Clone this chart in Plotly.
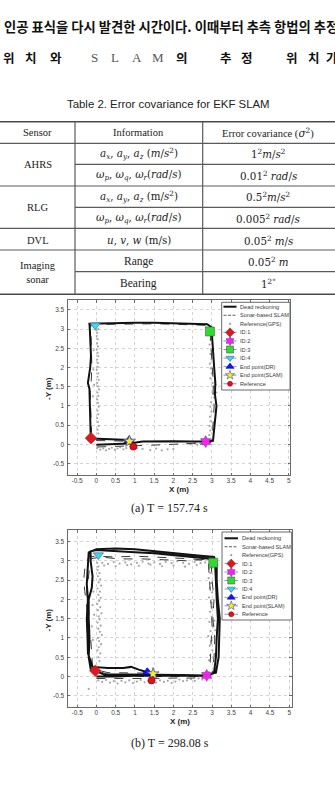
import plotly.graph_objects as go

W, H = 335, 790

# ---------------- text data ----------------
intro_line = "인공 표식을 다시 발견한 시간이다. 이때부터 추측 항법의 추정"
intro_chars = ["위", "치", "와", "S", "L", "A", "M", "의", "추", "정", "위", "치", "가"]

table_title = "Table 2. Error covariance for EKF SLAM"
table_header = ["Sensor", "Information", "Error covariance (<span style='font-family:DejaVu Serif'><i>σ</i><sup>2</sup></span>)"]
sensors = ["AHRS", "RLG", "DVL", "Imaging<br>sonar"]
information = [
    "<i>a<sub>x</sub></i>, <i>a<sub>y</sub></i>, <i>a<sub>z</sub></i> (<i>m</i>/<i>s</i><sup>2</sup>)",
    "<i>ω<sub>p</sub></i>, <i>ω<sub>q</sub></i>, <i>ω<sub>r</sub></i>(<i>rad</i>/<i>s</i>)",
    "<i>a<sub>x</sub></i>, <i>a<sub>y</sub></i>, <i>a<sub>z</sub></i> (m/<i>s</i><sup>2</sup>)",
    "<i>ω<sub>p</sub></i>, <i>ω<sub>q</sub></i>, <i>ω<sub>r</sub></i>(<i>rad</i>/<i>s</i>)",
    "<i>u</i>, <i>v</i>, <i>w</i> (m/s)",
    "Range",
    "Bearing",
]
covariance = [
    "1<sup>2</sup><i>m</i>/<i>s</i><sup>2</sup>",
    "0.01<sup>2</sup> <i>rad</i>/<i>s</i>",
    "0.5<sup>2</sup><i>m</i>/<i>s</i><sup>2</sup>",
    "0.005<sup>2</sup> <i>rad</i>/<i>s</i>",
    "0.05<sup>2</sup> <i>m</i>/<i>s</i>",
    "0.05<sup>2</sup> <i>m</i>",
    "1<sup>2°</sup>",
]

x_tickvals = [-0.5, 0, 0.5, 1, 1.5, 2, 2.5, 3, 3.5, 4, 4.5, 5]
x_ticktext = ["-0.5", "0", "0.5", "1", "1.5", "2", "2.5", "3", "3.5", "4", "4.5", "5"]
y_tickvals = [-0.5, 0, 0.5, 1, 1.5, 2, 2.5, 3, 3.5]
y_ticktext = ["-0.5", "0", "0.5", "1", "1.5", "2", "2.5", "3", "3.5"]
x_title = "X (m)"
y_title = "-Y (m)"
captions = ["(a) T = 157.74 s", "(b) T = 298.08 s"]

legend_labels = ["Dead reckoning", "Sonar-based SLAM", "Reference(GPS)", "ID:1", "ID:2",
                 "ID:3", "ID:4", "End point(DR)", "End point(SLAM)", "Reference"]

# ---------------- panel (a) data ----------------
dr_a_x = [0.00, 0.50, 0.85, 1.20, 1.60, 2.00, 2.50, 2.85, 3.03, 3.06, 3.10, 3.12, 3.08, 3.09, 3.06,
          3.03, 3.00, 2.99, 2.88, 2.40, 2.00, 1.50, 1.00, 0.50, 0.00, -0.18, -0.17, -0.16, -0.14,
          -0.16, -0.20, -0.22, -0.18, -0.17, -0.16, -0.15, -0.13, 0.20, 0.50, 0.85]
dr_a_y = [-0.01, 0.00, 0.02, 0.07, 0.08, 0.08, 0.07, 0.07, 0.09, 0.35, 0.70, 1.00, 1.30, 1.60, 2.00,
          2.40, 2.80, 3.05, 3.13, 3.15, 3.16, 3.17, 3.17, 3.16, 3.16, 3.14, 3.00, 2.70, 2.30,
          2.00, 1.75, 1.60, 1.45, 1.00, 0.60, 0.30, 0.15, 0.13, 0.12, 0.11]
slam_a_x = [0.02, 0.50, 1.00, 1.50, 2.00, 2.50, 2.85, 2.98, 3.02, 3.05, 3.06, 3.03, 3.04, 3.01,
            2.99, 2.96, 2.95, 2.85, 2.40, 2.00, 1.50, 1.00, 0.50, 0.00, -0.15, -0.14, -0.13,
            -0.12, -0.13, -0.16, -0.15, -0.14, -0.13, -0.12, -0.10, 0.20, 0.50, 0.86]
slam_a_y = [-0.07, -0.06, -0.04, -0.02, 0.00, 0.02, 0.03, 0.05, 0.35, 0.70, 1.00, 1.30, 1.60, 2.00,
            2.40, 2.80, 3.02, 3.10, 3.12, 3.13, 3.14, 3.14, 3.13, 3.12, 3.10, 2.90, 2.50,
            2.10, 1.70, 1.40, 1.00, 0.60, 0.30, 0.15, 0.10, 0.09, 0.08, 0.08]
gps_a_x = [0.00, 0.02, 0.01, 0.03, 0.02, 0.04, 0.01, 0.03, 0.05, 0.02, 0.04, 0.03, 0.01, 0.05, 0.03,
           0.06, 0.02, 0.04, 0.07, 0.03, 0.05, 0.02, 0.04, 0.06, 0.03, 0.05, 0.02, 0.04, 0.06, 0.03,
           0.05, -0.08, -0.06, -0.09, -0.07,
           2.95, 2.97, 2.94, 2.98, 2.96, 2.99, 2.95, 2.97, 3.00, 2.96, 3.02, 3.05, 3.08, 3.04, 3.06,
           2.98, 2.96, 2.99, 2.95, 2.97, 2.94, 2.96, 2.93, 3.10, 3.12,
           0.02, 0.10, 0.18, 0.25, 0.33, 0.40, 0.48, 0.55, 0.62, 0.70, 0.78, 1.05, 1.20, 1.40, 1.55,
           1.70, 1.85, 2.00, 2.35, 2.45, 2.55, 2.62, 2.70, 2.78, 2.88,
           -0.02, 2.85, 2.92, 0.05]
gps_a_y = [2.98, 2.90, 2.82, 2.74, 2.63, 2.55, 2.47, 2.38, 2.30, 2.21, 2.12, 2.02, 1.94, 1.85, 1.76,
           1.68, 1.60, 1.51, 1.43, 1.35, 1.26, 1.17, 1.08, 0.98, 0.88, 0.78, 0.68, 0.58, 0.48, 0.38,
           0.28, 1.95, 1.55, 1.25, 2.45,
           2.85, 2.72, 2.60, 2.48, 2.35, 2.22, 2.10, 1.98, 1.85, 1.72, 1.60, 1.50, 1.42, 1.32, 1.22,
           1.10, 0.98, 0.85, 0.72, 0.60, 0.48, 0.36, 0.24, 1.55, 1.35,
           -0.10, -0.14, -0.11, -0.16, -0.12, -0.09, -0.14, -0.11, -0.08, -0.13, -0.10, -0.10, -0.12,
           -0.15, -0.11, -0.16, -0.13, -0.12, 0.02, 0.00, 0.03, -0.01, 0.02, 0.00, 0.03,
           3.05, 3.05, 2.98, 3.00]
id_a_x = [-0.14, 2.84, 2.95, -0.03]
id_a_y = [0.16, 0.07, 2.94, 3.10]
end_dr_a = [0.85, 0.10]
end_slam_a = [0.86, 0.08]
ref_a = [0.96, -0.06]

# ---------------- panel (b) data ----------------
dr_b_x = [0.00, 0.50, 1.00, 1.50, 2.00, 2.50, 2.90, 3.05, 3.10, 3.12, 3.15, 3.12, 3.10, 3.08, 3.00,
          2.50, 2.00, 1.50, 1.00, 0.50, 0.00, -0.15, -0.15, -0.10, -0.12, -0.20, -0.20, -0.18,
          -0.20, -0.15, 0.20, 0.80, 1.50, 2.20, 2.80, 3.10, 3.17, 3.18, 3.20, 3.15, 3.12, 3.12,
          3.05, 2.50, 2.00, 1.50, 1.00, 0.50, 0.00, -0.20, -0.22, -0.25, -0.22, -0.25, -0.23,
          -0.22, -0.10, 0.30, 0.70, 0.90, 1.10, 1.32]
dr_b_y = [0.00, 0.00, 0.02, 0.03, 0.03, 0.02, 0.02, 0.10, 0.50, 1.00, 1.50, 2.00, 2.50, 2.90, 3.05,
          3.10, 3.15, 3.20, 3.22, 3.25, 3.28, 3.25, 3.00, 2.60, 2.30, 2.00, 1.50, 1.00,
          0.50, 0.20, 0.05, 0.05, 0.05, 0.04, 0.03, 0.10, 0.50, 1.00, 1.50, 2.00, 2.50, 2.90,
          3.10, 3.15, 3.20, 3.25, 3.30, 3.32, 3.30, 3.22, 2.80, 2.40, 2.00, 1.50, 1.00,
          0.60, 0.25, 0.22, 0.22, 0.25, 0.18, 0.11]
slam_b_x = [0.00, 0.50, 1.00, 1.50, 2.00, 2.50, 2.90, 2.95, 2.97, 3.00, 2.98, 2.95, 2.92, 2.90,
            2.50, 2.00, 1.50, 1.00, 0.50, 0.00, -0.20, -0.30, -0.33, -0.30, -0.25, -0.20, -0.15,
            -0.12, -0.10, 0.30, 0.80, 1.30, 2.00, 2.60, 3.00, 3.05, 3.07, 3.02, 3.05, 3.00, 2.98,
            2.90, 2.40, 1.80, 1.20, 0.60, 0.10, -0.15, -0.20, -0.25, -0.20, -0.18, -0.20, -0.10,
            0.30, 0.80, 1.20, 1.47]
slam_b_y = [-0.05, -0.05, -0.06, -0.05, -0.04, -0.04, 0.00, 0.30, 0.80, 1.30, 1.80, 2.30, 2.70, 3.00,
            3.05, 3.08, 3.10, 3.12, 3.10, 3.12, 3.10, 2.80, 2.50, 2.20, 1.80, 1.40, 1.00,
            0.60, 0.20, 0.05, 0.02, 0.00, 0.00, 0.00, 0.05, 0.50, 1.00, 1.50, 2.00, 2.50, 2.90,
            3.05, 3.00, 3.02, 3.05, 3.05, 3.10, 3.05, 2.60, 2.20, 1.70, 1.20, 0.70, 0.20,
            0.10, 0.10, 0.09, 0.07]
gps_b_x = [0.02, 0.05, 0.03, 0.08, 0.04, 0.10, 0.06, 0.12, 0.03, 0.09, 0.05, 0.11, 0.07, 0.02, 0.10,
           0.04, 0.13, 0.06, 0.08, 0.03, 0.11, 0.05, 0.09, 0.14, 0.04, 0.07, 0.12, 0.06, 0.03, 0.10,
           0.05, 0.08, -0.08, -0.10, -0.06, -0.12, -0.09,
           0.15, 0.30, 0.45, 0.60, 0.75, 0.90, 1.05, 1.20, 1.35, 1.50, 1.65, 1.80, 1.95, 2.10, 2.25,
           2.40, 2.55, 2.70, 2.82, 0.20, 0.50, 0.80, 1.10, 1.40, 1.70, 2.00, 2.30, 2.60,
           2.93, 2.96, 2.91, 2.98, 2.94, 3.00, 2.92, 2.97, 3.02, 2.95, 2.99, 2.93, 3.04, 2.96, 2.90,
           2.98, 2.94, 3.01, 2.95, 2.92, 3.06, 3.08,
           0.05, 0.15, 0.25, 0.35, 0.45, 0.55, 0.65, 0.75, 0.85, 0.95, 1.05, 1.15, 1.25, 1.35, 1.55,
           1.65, 1.75, 1.85, 1.95, 2.05, 2.15, 2.25, 2.35, 2.45, 2.55, 2.65, 2.75, 2.85,
           -0.20]
gps_b_y = [2.95, 2.85, 2.76, 2.68, 2.60, 2.52, 2.44, 2.36, 2.28, 2.20, 2.12, 2.04, 1.96, 1.88, 1.80,
           1.72, 1.64, 1.56, 1.48, 1.40, 1.32, 1.24, 1.16, 1.08, 1.00, 0.92, 0.84, 0.76, 0.68, 0.60,
           0.50, 0.40, 2.20, 1.85, 1.60, 1.30, 0.95,
           2.95, 2.92, 2.97, 2.93, 2.96, 2.91, 2.95, 2.98, 2.93, 2.96, 2.92, 2.97, 2.94, 2.99, 2.95,
           2.92, 2.97, 2.94, 2.96, 2.88, 2.86, 2.89, 2.87, 2.90, 2.86, 2.88, 2.85, 2.89,
           2.80, 2.68, 2.55, 2.42, 2.30, 2.18, 2.05, 1.92, 1.80, 1.68, 1.55, 1.42, 1.30, 1.18, 1.05,
           0.92, 0.80, 0.68, 0.55, 0.42, 1.45, 1.20,
           -0.10, -0.14, -0.09, -0.16, -0.12, -0.18, -0.11, -0.15, -0.10, -0.17, -0.13, -0.09, -0.15,
           -0.12, -0.16, -0.10, -0.14, -0.11, -0.17, -0.13, -0.08, -0.12, -0.10, -0.07, -0.11, -0.05,
           -0.08, -0.04,
           -0.32]
id_b_x = [-0.03, 2.86, 3.03, 0.05]
id_b_y = [0.15, 0.03, 2.95, 3.15]
end_dr_b = [1.32, 0.11]
end_slam_b = [1.47, 0.07]
ref_b = [1.43, -0.10]

# ---------------- styles ----------------
id_symbols = ["diamond", "hexagram", "square", "triangle-down"]
id_colors = ["#e8141c", "#ff1aff", "#2edc2e", "#30dcff"]
end_styles = [("triangle-up", "#1212ff", "#0a0a90", 9), ("star", "#f2f21e", "#4a4aa8", 9),
              ("circle", "#e0101c", "#a00010", 7)]


def P(px, py):
    return px / W, 1 - py / H


def ann(px, py, text, font, xanchor="center", **kw):
    x, y = P(px, py)
    d = dict(xref="paper", yref="paper", x=x, y=y, text=text, showarrow=False,
             xanchor=xanchor, yanchor="middle", font=font)
    d.update(kw)
    return d


fig = go.Figure()

panels = [
    dict(xa="x", ya="y", dr=(dr_a_x, dr_a_y), slam=(slam_a_x, slam_a_y), gps=(gps_a_x, gps_a_y),
         ids=(id_a_x, id_a_y), ends=[end_dr_a, end_slam_a, ref_a]),
    dict(xa="x2", ya="y2", dr=(dr_b_x, dr_b_y), slam=(slam_b_x, slam_b_y), gps=(gps_b_x, gps_b_y),
         ids=(id_b_x, id_b_y), ends=[end_dr_b, end_slam_b, ref_b]),
]

for p in panels:
    fig.add_trace(go.Scatter(x=p["gps"][0], y=p["gps"][1], mode="markers", xaxis=p["xa"], yaxis=p["ya"],
                             marker=dict(size=2.2, color="#a6a6a6"), showlegend=False, hoverinfo="skip"))
    fig.add_trace(go.Scatter(x=p["slam"][0], y=p["slam"][1], mode="lines", xaxis=p["xa"], yaxis=p["ya"],
                             line=dict(color="#3a3a3a", width=1, dash="dash"), showlegend=False))
    fig.add_trace(go.Scatter(x=p["dr"][0], y=p["dr"][1], mode="lines", xaxis=p["xa"], yaxis=p["ya"],
                             line=dict(color="#111111", width=2), showlegend=False))
    for i in range(4):
        fig.add_trace(go.Scatter(x=[p["ids"][0][i]], y=[p["ids"][1][i]], mode="markers",
                                 xaxis=p["xa"], yaxis=p["ya"], showlegend=False,
                                 marker=dict(symbol=id_symbols[i], size=9, color=id_colors[i],
                                             line=dict(width=0.6, color="#555555"))))
    for (sym, col, edge, sz), pt in zip(end_styles, p["ends"]):
        fig.add_trace(go.Scatter(x=[pt[0]], y=[pt[1]], mode="markers", xaxis=p["xa"], yaxis=p["ya"],
                                 showlegend=False,
                                 marker=dict(symbol=sym, size=sz, color=col, line=dict(width=0.8, color=edge))))

# ---------------- manual legends (overlay axes in pixel units) ----------------
legend_boxes = [dict(x0=221.7, x1=290.0, y0=302.3, y1=390.0, row0=306.7, dy=8.56, lx0=223.5, lx1=236.5, tx=238.0),
                dict(x0=222.0, x1=291.7, y0=532.0, y1=620.0, row0=538.3, dy=8.44, lx0=224.5, lx1=238.0, tx=240.0)]
shapes = []
annotations = []
for lb in legend_boxes:
    shapes.append(dict(type="rect", xref="x3", yref="y3", x0=lb["x0"], x1=lb["x1"], y0=lb["y0"], y1=lb["y1"],
                       fillcolor="white", line=dict(color="#6a6a6a", width=1), layer="below"))
    mx = (lb["lx0"] + lb["lx1"]) / 2
    for i, lab in enumerate(legend_labels):
        yy = lb["row0"] + i * lb["dy"]
        if i == 0:
            fig.add_trace(go.Scatter(x=[lb["lx0"], lb["lx1"]], y=[yy, yy], mode="lines", xaxis="x3", yaxis="y3",
                                     line=dict(color="#111", width=2), showlegend=False, hoverinfo="skip"))
        elif i == 1:
            fig.add_trace(go.Scatter(x=[lb["lx0"], lb["lx1"]], y=[yy, yy], mode="lines", xaxis="x3", yaxis="y3",
                                     line=dict(color="#333", width=0.8, dash="3px,1.5px"), showlegend=False,
                                     hoverinfo="skip"))
        elif i == 2:
            fig.add_trace(go.Scatter(x=[mx], y=[yy], mode="markers", xaxis="x3", yaxis="y3",
                                     marker=dict(size=2.2, color="#9c9c9c"), showlegend=False, hoverinfo="skip"))
        else:
            if i < 7:
                sym, col, edge, sz = id_symbols[i - 3], id_colors[i - 3], "#555555", 7
            else:
                sym, col, edge, sz = end_styles[i - 7]
                sz = sz - 2
            fig.add_trace(go.Scatter(x=[lb["lx0"], lb["lx1"]], y=[yy, yy], mode="lines", xaxis="x3", yaxis="y3",
                                     line=dict(color="#6a74c8", width=0.8), showlegend=False, hoverinfo="skip"))
            fig.add_trace(go.Scatter(x=[mx], y=[yy], mode="markers", xaxis="x3", yaxis="y3",
                                     marker=dict(symbol=sym, size=sz, color=col, line=dict(width=0.6, color=edge)),
                                     showlegend=False, hoverinfo="skip"))
        annotations.append(ann(lb["tx"], yy, lab, dict(family="Liberation Sans", size=5.6, color="#3a3a3a"),
                               xanchor="left"))

# ---------------- table ----------------
tbl_full = [121.7, 143.3, 186.0, 228.3, 250.0, 294.3]
tbl_part = [164.3, 207.3, 271.7]
col_x = [75.0, 202.7]
for k, yy in enumerate(tbl_full):
    shapes.append(dict(type="line", xref="x3", yref="y3", x0=0, x1=W, y0=yy, y1=yy,
                       line=dict(color="#4a4a4a" if k in (0, 5) else "#5a5a5a", width=1.5 if k in (0, 5) else 1.2),
                       layer="below"))
for yy in tbl_part:
    shapes.append(dict(type="line", xref="x3", yref="y3", x0=col_x[0], x1=W, y0=yy, y1=yy,
                       line=dict(color="#5a5a5a", width=1.2), layer="below"))
for xx in col_x:
    shapes.append(dict(type="line", xref="x3", yref="y3", x0=xx, x1=xx, y0=tbl_full[0], y1=tbl_full[-1],
                       line=dict(color="#5a5a5a", width=1.2), layer="below"))

col_cx = [37.5, 138.5, 268.0]
serif = "Liberation Serif"
math = "DejaVu Serif"
for cx, txt in zip(col_cx, table_header):
    annotations.append(ann(cx, 132.7, txt, dict(family=serif, size=10.5, color="#222")))
sensor_y = [164.6, 207.2, 240.0, 272.5]
for sy, txt in zip(sensor_y, sensors):
    annotations.append(ann(col_cx[0], sy, txt, dict(family=serif, size=10.5, color="#222")))
row_y = [153.5, 175.2, 196.8, 218.3, 240.0, 261.5, 283.2]
info_is_math = [True, True, True, True, True, False, False]
for ry, inf, cov, im in zip(row_y, information, covariance, info_is_math):
    annotations.append(ann(col_cx[1], ry, inf,
                           dict(family=math if im else serif, size=10.3 if im else 11.5, color="#222")))
    annotations.append(ann(col_cx[2], ry, cov, dict(family=math, size=10.3, color="#222")))

annotations.append(ann(168.5, 104.0, table_title, dict(family="Liberation Sans", size=11.4, color="#222")))

# ---------------- intro text ----------------
annotations.append(ann(2, 27, "<b>" + intro_line + "</b>",
                       dict(family="Noto Sans CJK KR", size=13.3, color="#111"), xanchor="left"))
char_x = [9, 31, 56, 94, 115, 137, 158, 182, 226, 247, 292, 314, 332]
for cxp, ch in zip(char_x, intro_chars):
    latin = ch.isascii()
    annotations.append(ann(cxp, 58, ch if latin else "<b>" + ch + "</b>",
                           dict(family=serif if latin else "Noto Sans CJK KR", size=13 if latin else 12.5,
                                color="#555" if latin else "#111")))

# ---------------- axis titles & captions ----------------
for (xt_x, xt_y), (yt_x, yt_y), (cp_x, cp_y), cap in zip([(178.5, 489.5), (179.5, 721.0)],
                                                         [(49.0, 389.0), (47.5, 620.0)],
                                                         [(169.0, 508.0), (170.0, 743.0)], captions):
    annotations.append(ann(xt_x, xt_y, "<b>" + x_title + "</b>",
                           dict(family="Liberation Sans", size=8, color="#222")))
    annotations.append(ann(yt_x, yt_y, "<b>" + y_title + "</b>",
                           dict(family="Liberation Sans", size=8, color="#222"), textangle=-90))
    annotations.append(ann(cp_x, cp_y, cap, dict(family=serif, size=12, color="#222")))

axis_common = dict(showgrid=True, gridcolor="#d4d4d4", griddash="dot", gridwidth=1, zeroline=False,
                   showline=True, linecolor="#6a6a6a", linewidth=1, mirror="ticks", ticks="inside",
                   ticklen=2.5, tickcolor="#6a6a6a", fixedrange=True,
                   tickfont=dict(family="Liberation Sans", size=6.5, color="#444"))

fig.update_layout(
    width=W, height=H, margin=dict(l=0, r=0, t=0, b=0),
    paper_bgcolor="white", plot_bgcolor="rgba(0,0,0,0)", showlegend=False,
    xaxis=dict(domain=[67.5 / W, 290.0 / W], range=[-0.75, 5.03], anchor="y",
               tickvals=x_tickvals, ticktext=x_ticktext, ticklabelstandoff=-1, **axis_common),
    yaxis=dict(domain=[1 - 475.0 / H, 1 - 300.0 / H], range=[-0.80, 3.76], anchor="x",
               tickvals=y_tickvals, ticktext=y_ticktext, ticklabelstandoff=1, **axis_common),
    xaxis2=dict(domain=[67.5 / W, 291.5 / W], range=[-0.75, 5.06], anchor="y2",
                tickvals=x_tickvals, ticktext=x_ticktext, ticklabelstandoff=-1, **axis_common),
    yaxis2=dict(domain=[1 - 707.0 / H, 1 - 530.0 / H], range=[-0.79, 3.80], anchor="x2",
                tickvals=y_tickvals, ticktext=y_ticktext, ticklabelstandoff=1, **axis_common),
    xaxis3=dict(domain=[0, 1], range=[0, W], anchor="y3", visible=False, fixedrange=True),
    yaxis3=dict(domain=[0, 1], range=[H, 0], anchor="x3", visible=False, fixedrange=True),
    shapes=shapes, annotations=annotations,
)

fig.write_html("out.html")
